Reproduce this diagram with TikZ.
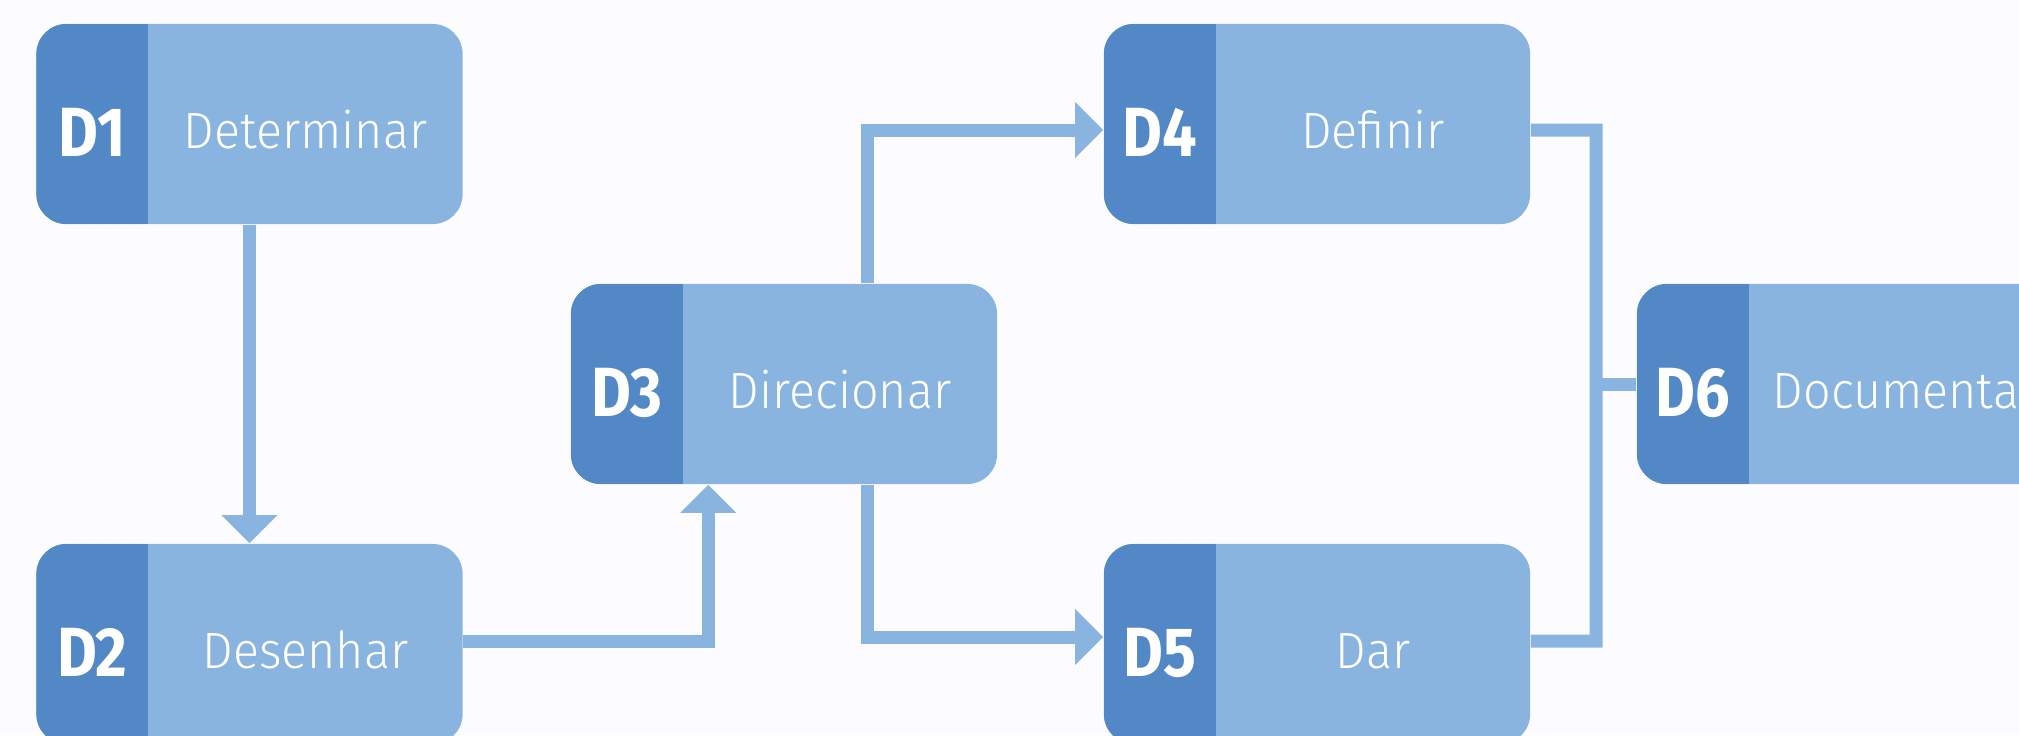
\documentclass[tikz,border=0pt]{standalone}
\usepackage{fontspec}
\setmainfont{Fira Sans}
\newfontfamily\labfont[FakeStretch=0.95]{Fira Sans Light}
\newfontfamily\numfont[FakeStretch=0.88]{Fira Sans}
\usetikzlibrary{arrows.meta,calc}
\definecolor{darkb}{HTML}{5388C6}
\definecolor{lightb}{HTML}{8AB4E0}
\definecolor{bg}{HTML}{FCFCFF}
\begin{document}
\begin{tikzpicture}[x=0.01cm,y=-0.01cm,
  dbox/.style={rectangle, rounded corners=0.3cm, fill=lightb, minimum width=4.26cm,
    minimum height=2cm, inner sep=0pt,
    path picture={\fill[darkb, sharp corners] (path picture bounding box.north west) rectangle
      ([xshift=1.12cm]path picture bounding box.south west);}},
  num/.style={font=\numfont\bfseries\fontsize{19.8}{20}\selectfont, text=white, anchor=base, inner sep=0pt},
  lab/.style={font=\labfont\fontsize{14.5}{15}\selectfont, text=white, anchor=base, inner sep=0pt},
  conn/.style={draw=lightb, line width=0.13cm, line join=miter},
  arr/.style={conn, -{Triangle[width=0.54cm,length=0.28cm]}}
]
\fill[bg] (0,0) rectangle (2019,735);
\useasboundingbox (0,0) rectangle (2019,735);
\clip (0,0) rectangle (2019,735);

\node[dbox] (d1) at (249.5,124) {};
\node[dbox] (d2) at (249.5,644) {};
\node[dbox] (d3) at (784,384) {};
\node[dbox] (d4) at (1317,124) {};
\node[dbox] (d5) at (1317,644) {};
\node[dbox] (d6) at (1850,384) {};

\node[num] (n1) at (92.5,156) {D1};
\node[lab] (t1) at (305.5,148) {Determinar};
\node[num] (n2) at (92.5,676) {D2};
\node[lab] (t2) at (305.5,668) {Desenhar};
\node[num] (n3) at (627,416) {D3};
\node[lab] (t3) at (840,408) {Direcionar};
\node[num] (n4) at (1160,156) {D4};
\node[lab] (t4) at (1373,148) {Definir};
\node[num] (n5) at (1160,676) {D5};
\node[lab] (t5) at (1373,668) {Dar};
\node[num] (n6) at (1693,416) {D6};
\node[lab, anchor=base west] (t6) at (1772,408) {Documenta};

\coordinate (bt) at (1596,130);
\coordinate (bb) at (1596,641);
\coordinate (bm) at (1596,384);

\draw[arr] (d1.south) -- (d2.north);
\draw[arr] ([yshift=0.03cm]d2.east) -| ([xshift=1.38cm]d3.south west);
\draw[arr] ([xshift=0.83cm]d3.north) |- ([yshift=-0.06cm]d4.west);
\draw[arr] ([xshift=0.83cm]d3.south) |- ([yshift=0.07cm]d5.west);
\draw[conn] ([yshift=-0.06cm]d4.east) -- (bt) -- (bb) -- ([yshift=0.03cm]d5.east);
\draw[conn] (bm) -- (d6.west);
\end{tikzpicture}
\end{document}
